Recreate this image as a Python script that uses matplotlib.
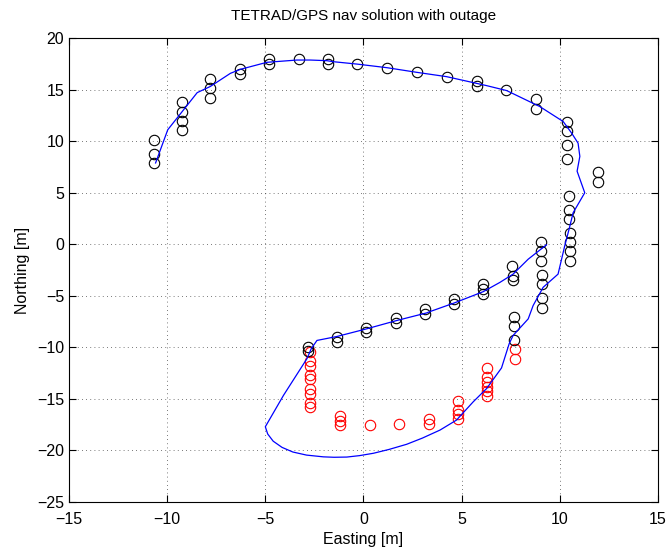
import matplotlib
matplotlib.use("Agg")
import matplotlib.pyplot as plt
import numpy as np

plt.rcParams["font.family"] = ["Liberation Sans", "DejaVu Sans"]

# GPS fixes while the receiver was tracking (easting, northing in metres)
gps_east = [-10.68, -10.68, -10.68,
            -9.24, -9.24, -9.24, -9.24,
            -7.80, -7.80, -7.80,
            -6.31, -6.31, -4.83, -4.83, -3.31, -1.82, -1.82, -0.31, 1.21,
            2.74, 4.25, 5.76, 5.76, 7.28, 8.79, 8.79,
            10.35, 10.35, 10.39, 10.39, 11.93, 11.93,
            10.47, 10.47, 10.48, 10.50, 10.50, 10.50, 10.50,
            9.05, 9.05, 9.06, 9.07, 9.07, 9.10, 9.10,
            7.58, 7.60, 7.60, 6.10, 6.10, 6.10, 4.62, 4.62,
            3.15, 3.15, 1.64, 1.64, 0.13, 0.13, -1.34, -1.34, -2.83, -2.83,
            7.67, 7.67, 7.69]
gps_north = [10.13, 8.78, 7.88,
             13.77, 12.87, 11.97, 11.07,
             16.02, 15.12, 14.22,
             16.99, 16.50, 17.92, 17.44, 17.92, 17.95, 17.50, 17.50, 17.10,
             16.67, 16.25, 15.86, 15.35, 14.93, 14.09, 13.16,
             11.87, 10.97, 9.62, 8.30, 6.98, 6.05,
             4.70, 3.33, 2.41, 1.09, 0.19, -0.70, -1.61,
             0.19, -0.70, -1.61, -2.99, -3.89, -5.25, -6.15,
             -2.15, -3.06, -3.47, -3.89, -4.34, -4.86, -5.31, -5.76,
             -6.27, -6.72, -7.17, -7.60, -8.10, -8.56, -9.01, -9.46, -9.95, -10.40,
             -7.01, -7.92, -9.33]

# GPS fixes withheld during the simulated outage
out_east = [-2.74] * 9 + [-1.21] * 3 + [0.34, 1.83, 3.32, 3.32] \
           + [4.79] * 4 + [6.27] * 6 + [7.72, 7.72]
out_north = [-10.45, -11.36, -11.80, -12.64, -13.10, -14.06, -14.48, -15.38, -15.83,
             -16.67, -17.11, -17.57,
             -17.53, -17.47, -16.99, -17.44,
             -15.18, -16.05, -16.50, -16.96,
             -12.00, -12.90, -13.35, -13.80, -14.26, -14.70,
             -10.15, -11.10]

# TETRAD/GPS navigation solution
nav_east = [-10.59, -9.97, -8.47, -7.80, -6.78, -6.27, -4.92, -3.39, -2.71, -1.87,
            -1.54, -0.34, 1.19, 2.71, 4.23, 5.76, 6.27, 7.29, 8.98, 10.17,
            10.60, 10.93, 11.02, 10.88, 11.27, 10.68, 10.47, 10.25, 9.91, 9.15,
            8.64, 8.39, 7.62, 7.42, 7.03, 6.27, 5.59, 4.74, 3.90, 3.00,
            2.20, 1.30, 0.51, -0.20, -0.85, -1.50, -2.04, -2.90, -3.60, -4.15,
            -4.60, -4.88, -5.00, -4.07, -2.88, -2.66,
            -2.37, -1.36, 0.17, 1.69, 3.22, 3.39, 4.62, 6.10, 6.95, 7.62,
            8.39, 9.32]
nav_north = [7.88, 11.10, 14.70, 15.30, 16.57, 16.96, 17.64, 17.86, 17.86, 17.80,
             17.70, 17.47, 17.12, 16.67, 16.25, 15.60, 15.38, 14.90, 13.35, 11.90,
             10.78, 9.80, 8.52, 7.08, 4.99, 3.06, 1.45, -0.16, -2.90, -4.18,
             -5.95, -7.24, -8.85, -9.65, -12.00, -14.00, -15.28, -17.05, -18.02, -18.80,
             -19.40, -19.90, -20.27, -20.50, -20.64, -20.66, -20.62, -20.45, -20.15, -19.70,
             -19.10, -18.40, -17.70, -14.64, -11.10, -10.13,
             -9.33, -8.95, -8.20, -7.40, -6.66, -6.53, -5.70, -4.60, -3.70, -2.90,
             -1.45, -0.06]

fig = plt.figure(figsize=(6.68, 5.48), dpi=100)
ax = fig.add_axes([0.1033, 0.0839, 0.8817, 0.8468])

ax.plot(out_east, out_north, 'o', mfc='none', mec='red', ms=7.5, mew=0.8)
ax.plot(gps_east, gps_north, 'o', mfc='none', mec='black', ms=7.5, mew=0.8)
ax.plot(nav_east, nav_north, '-', color='blue', lw=0.9)

ax.set_xlim(-15, 15)
ax.set_ylim(-25, 20)
ax.set_xticks(np.arange(-15, 16, 5))
ax.set_yticks(np.arange(-25, 21, 5))
ax.grid(True, linestyle=(0, (1, 4)), color='black', lw=0.6, alpha=0.7)
ax.tick_params(direction='in', top=True, right=True, labelsize=11.5, length=5)
ax.tick_params(axis='x', pad=7.5)
for s in ax.spines.values():
    s.set_linewidth(0.8)

ax.set_title('TETRAD/GPS nav solution with outage', fontsize=11, pad=13)
ax.set_xlabel('Easting [m]', fontsize=11.5, labelpad=3)
ax.set_ylabel('Northing [m]', fontsize=11.5, labelpad=5)

fig.savefig('out.png', dpi=100, facecolor='white')
